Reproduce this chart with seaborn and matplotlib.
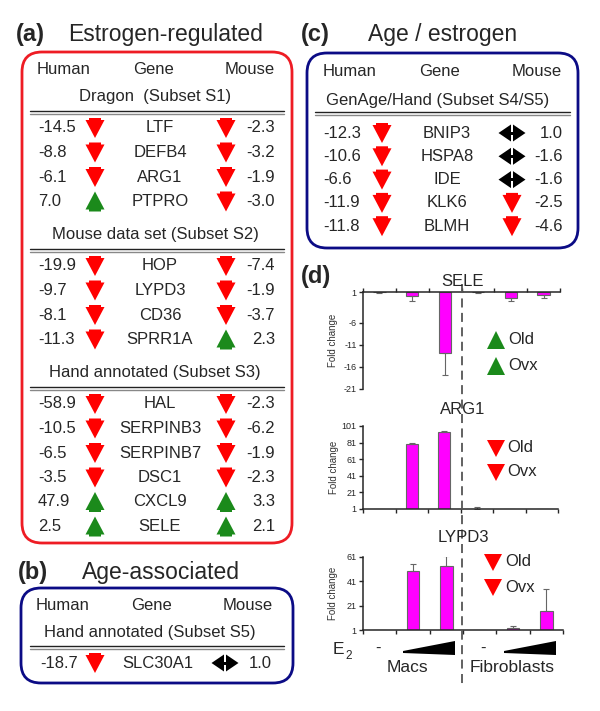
import pandas as pd
import matplotlib
matplotlib.use("Agg")
import matplotlib.pyplot as plt
import matplotlib.transforms as mtransforms
from matplotlib.patches import Polygon, FancyBboxPatch
from matplotlib.lines import Line2D
import seaborn as sns

sns.set_style("ticks")
plt.rcParams['font.family'] = ['Liberation Sans', 'DejaVu Sans']

RED = '#ff0000'
GREEN = '#1b8a1b'
NAVY = '#0b0b85'
BOX_RED = '#ee1c24'
MAGENTA = '#ff00ff'

# (a) estrogen-regulated genes: d = down, u = up, n = no change
s1_genes = ['LTF', 'DEFB4', 'ARG1', 'PTPRO']
s1_human = [-14.5, -8.8, -6.1, 7.0]
s1_hdir = ['d', 'd', 'd', 'u']
s1_mouse = [-2.3, -3.2, -1.9, -3.0]
s1_mdir = ['d', 'd', 'd', 'd']

s2_genes = ['HOP', 'LYPD3', 'CD36', 'SPRR1A']
s2_human = [-19.9, -9.7, -8.1, -11.3]
s2_hdir = ['d', 'd', 'd', 'd']
s2_mouse = [-7.4, -1.9, -3.7, 2.3]
s2_mdir = ['d', 'd', 'd', 'u']

s3_genes = ['HAL', 'SERPINB3', 'SERPINB7', 'DSC1', 'CXCL9', 'SELE']
s3_human = [-58.9, -10.5, -6.5, -3.5, 47.9, 2.5]
s3_hdir = ['d', 'd', 'd', 'd', 'u', 'u']
s3_mouse = [-2.3, -6.2, -1.9, -2.3, 3.3, 2.1]
s3_mdir = ['d', 'd', 'd', 'd', 'u', 'u']

# (b) age-associated
s5_genes = ['SLC30A1']
s5_human = [-18.7]
s5_hdir = ['d']
s5_mouse = [1.0]
s5_mdir = ['n']

# (c) age / estrogen
s4_genes = ['BNIP3', 'HSPA8', 'IDE', 'KLK6', 'BLMH']
s4_human = [-12.3, -10.6, -6.6, -11.9, -11.8]
s4_hdir = ['d', 'd', 'd', 'd', 'd']
s4_mouse = [1.0, -1.6, -1.6, -2.5, -4.6]
s4_mdir = ['n', 'n', 'n', 'd', 'd']

# (d) qPCR fold change, Macs / Fibroblasts with increasing E2
conditions = ['Macs -', 'Macs low', 'Macs high', 'Fib -', 'Fib low', 'Fib high']
sele_fold = [1.0, 0.2, -12.8, 1.0, -0.4, 0.4]
sele_err = [0.3, 1.2, 5.1, 0.3, 0.6, 0.8]
arg1_fold = [1.0, 79.0, 94.0, 1.2, 1.0, 1.0]
arg1_err = [0.0, 1.2, 0.5, 2.5, 0.0, 0.0]
lypd3_fold = [1.0, 49.4, 53.5, 1.0, 3.0, 16.8]
lypd3_err = [0.0, 5.6, 8.1, 0.0, 1.3, 17.5]

fig = plt.figure(figsize=(6, 7.11), dpi=100)
# pixel coordinates, origin at top-left
px = mtransforms.Affine2D().scale(1 / 600, -1 / 711).translate(0, 1) + fig.transFigure


def txt(x, y, s, **kw):
    kw.setdefault('fontsize', 12)
    kw.setdefault('va', 'center')
    fig.text(x, y, s, transform=px, **kw)


def shape(cx, cy, kind, color=None):
    if kind == 'd':
        pts = [(-6, -10), (6, -10), (6, -8), (9.5, -8), (0, 10), (-9.5, -8), (-6, -8)]
        col = color or RED
    elif kind == 'u':
        pts = [(-6, 10), (6, 10), (6, 8), (9.5, 8), (0, -10), (-9.5, 8), (-6, 8)]
        col = color or GREEN
    elif kind == 'tri_d':
        pts = [(-9, -8), (9, -8), (0, 9)]
        col = color or RED
    elif kind == 'tri_u':
        pts = [(-9, 9), (9, 9), (0, -9)]
        col = color or GREEN
    else:
        for sgn in (-1, 1):
            p = [(sgn * 13.5, 0), (sgn * 1, -8.5), (sgn * 1, 8.5)]
            fig.add_artist(Polygon([(cx + a, cy + b) for a, b in p], closed=True,
                                   transform=px, fc='black', ec='none'))
        fig.add_artist(Polygon([(cx - 2, cy - 1.5), (cx + 2, cy - 1.5), (cx + 2, cy + 1.5),
                                (cx - 2, cy + 1.5)], closed=True, transform=px,
                               fc='black', ec='none'))
        return
    fig.add_artist(Polygon([(cx + a, cy + b) for a, b in pts], closed=True,
                           transform=px, fc=col, ec='none'))


def dline(x0, x1, y):
    fig.add_artist(Line2D([x0, x1], [y - 1.5, y - 1.5], transform=px, color='#222', lw=1))
    fig.add_artist(Line2D([x0, x1], [y + 1.5, y + 1.5], transform=px, color='#888', lw=1))


def rows(y0, cols, genes, human, hdir, mouse, mdir, step=24.5):
    xv, xha, xg, xma, xmv = cols
    for i, g in enumerate(genes):
        y = y0 + i * step
        txt(xv, y, f"{human[i]:.1f}", ha='left')
        shape(xha, y, hdir[i])
        txt(xg, y, g, ha='center')
        shape(xma, y, mdir[i])
        txt(xmv, y, f"{mouse[i]:.1f}", ha='right')


def box(x0, y0, x1, y1, color):
    fig.add_artist(FancyBboxPatch((x0, y0), x1 - x0, y1 - y0,
                                  boxstyle="round,pad=0,rounding_size=20",
                                  transform=px, fill=False, ec=color, lw=2))


def header(xl, xc, xr, y):
    txt(xl, y, 'Human', ha='left')
    txt(xc, y, 'Gene', ha='center')
    txt(xr, y, 'Mouse', ha='right')


# ---- (a)
txt(16, 34, '(a)', fontsize=17, fontweight='bold', ha='left')
txt(68, 35, 'Estrogen-regulated', fontsize=16.5, ha='left')
box(22, 52, 292, 543, BOX_RED)
header(37, 153, 275, 70)
cols_a = (38, 95, 160, 226, 275)
txt(155, 97, 'Dragon  (Subset S1)', ha='center')
dline(30, 284, 112)
rows(128, cols_a, s1_genes, s1_human, s1_hdir, s1_mouse, s1_mdir)
txt(155, 235, 'Mouse data set (Subset S2)', ha='center')
dline(30, 284, 250)
rows(266, cols_a, s2_genes, s2_human, s2_hdir, s2_mouse, s2_mdir)
txt(155, 373, 'Hand annotated (Subset S3)', ha='center')
dline(30, 284, 388)
rows(404, cols_a, s3_genes, s3_human, s3_hdir, s3_mouse, s3_mdir)

# ---- (b)
txt(18, 572, '(b)', fontsize=17, fontweight='bold', ha='left')
txt(82, 572, 'Age-associated', fontsize=16.5, ha='left')
box(21, 588, 293, 683, NAVY)
header(36, 152, 273, 605)
txt(150, 632, 'Hand annotated (Subset S5)', ha='center')
dline(30, 284, 647)
rows(663, (40, 95, 158, 225, 272), s5_genes, s5_human, s5_hdir, s5_mouse, s5_mdir)

# ---- (c)
txt(301, 34, '(c)', fontsize=17, fontweight='bold', ha='left')
txt(368, 35, 'Age / estrogen', fontsize=16.5, ha='left')
box(307, 53, 578, 248, NAVY)
header(323, 440, 562, 72)
txt(438, 100, 'GenAge/Hand (Subset S4/S5)', ha='center')
dline(315, 570, 113)
rows(133, (323, 382, 447, 512, 563), s4_genes, s4_human, s4_hdir, s4_mouse, s4_mdir,
     step=23.3)

# ---- (d)
txt(301, 277, '(d)', fontsize=17, fontweight='bold', ha='left')


def bar_panel(rect, fold, err, title, title_y, ylim, yticks, top_axis=False):
    x0, y0, x1, y1 = rect
    ax = fig.add_axes([x0 / 600, 1 - y1 / 711, (x1 - x0) / 600, (y1 - y0) / 711])
    df = pd.DataFrame({'condition': conditions, 'height': [f - 1 for f in fold]})
    sns.barplot(data=df, x='condition', y='height', order=conditions, color=MAGENTA,
                saturation=1, width=0.38, errorbar=None, edgecolor='#666',
                linewidth=0.8, bottom=1, ax=ax)
    for i, (f, e) in enumerate(zip(fold, err)):
        if e <= 0:
            continue
        yerr = [[e], [0]] if top_axis else [[0], [e]]
        ax.errorbar(i, f, yerr=yerr, color='#666', lw=0.8, capsize=2.5,
                    capthick=0.8, fmt='none')
    ax.set_xlim(-0.5, len(conditions) - 0.5)
    ax.set_ylim(*ylim)
    ax.set_xticks([i - 0.5 for i in range(len(conditions) + 1)])
    ax.set_xticklabels([])
    ax.set_yticks(yticks)
    ax.set_yticklabels([str(t) for t in yticks])
    ax.tick_params(axis='y', labelsize=6.5, length=3, width=1, pad=1.5)
    ax.tick_params(axis='x', length=3, width=1)
    ax.set_xlabel('')
    ax.set_ylabel('Fold change', fontsize=7, color='#333')
    ax.yaxis.set_label_coords(-0.125, 0.5)
    for s in ax.spines.values():
        s.set_linewidth(1.1)
    ax.spines['right'].set_visible(False)
    if top_axis:
        ax.spines['bottom'].set_visible(False)
        ax.xaxis.tick_top()
    else:
        ax.spines['top'].set_visible(False)
    ax.patch.set_alpha(0)
    txt(463, title_y, title, fontsize=12, ha='center')
    return ax


bar_panel((363, 292, 560, 389), sele_fold, sele_err, 'SELE', 282, (-21, 1),
          [1, -6, -11, -16, -21], top_axis=True)
bar_panel((363, 426, 558, 509), arg1_fold, arg1_err, 'ARG1', 410, (1, 101),
          [1, 21, 41, 61, 81, 101])
bar_panel((363, 557, 563, 630), lypd3_fold, lypd3_err, 'LYPD3', 537, (1, 61),
          [1, 21, 41, 61])

# legends in (d)
for (xs, ys, kind, xt) in [(496, (340, 366), 'tri_u', 508),
                           (496, (448, 472), 'tri_d', 507),
                           (493, (562, 587), 'tri_d', 505)]:
    for y, lab in zip(ys, ['Old', 'Ovx']):
        shape(xs, y, kind)
        txt(xt, y, lab, fontsize=12, ha='left')

# separator between Macs and Fibroblasts
fig.add_artist(Line2D([462, 462], [284, 686], transform=px, color='#555', lw=1.3,
                      ls=(0, (5, 3))))

# E2 dose row
txt(333, 650, 'E', fontsize=12.5, ha='left')
txt(345, 656, '2', fontsize=8.5, ha='left')
txt(378, 648, '-', fontsize=12, ha='center')
txt(483, 648, '-', fontsize=12, ha='center')
for xa, xb in [(403, 455), (504, 556)]:
    fig.add_artist(Polygon([(xa, 651), (xb, 641), (xb, 655), (xa, 653)], closed=True,
                           transform=px, fc='black', ec='none'))
txt(407, 667, 'Macs', fontsize=12.5, ha='center')
txt(512, 667, 'Fibroblasts', fontsize=12.5, ha='center')

fig.savefig('out.png', dpi=100)
